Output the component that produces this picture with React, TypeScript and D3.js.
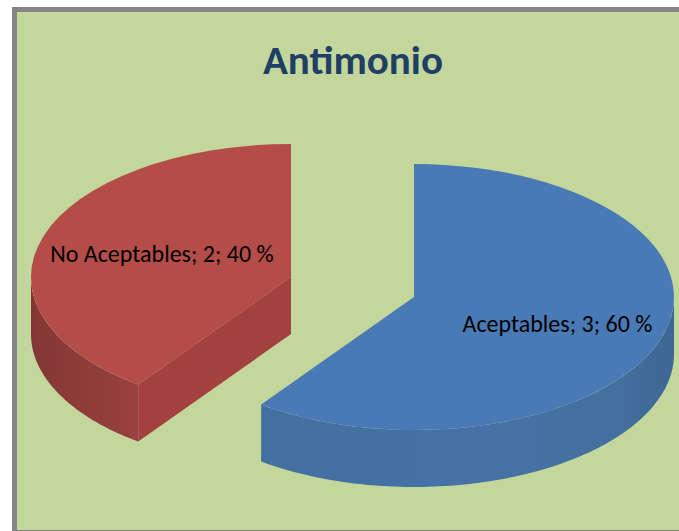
import React from "react";
import * as d3 from "d3";

const categories = ["Aceptables", "No Aceptables"];
const values = [3, 2];
const titleText = "Antimonio";

const W = 679, H = 531;
const rx = 260, ry = 133, depth = 57;
const centers = [{ x: 414, y: 297 }, { x: 291, y: 277 }];
const topColors = ["#4a7ab5", "#b44c48"];
const FONT = "Carlito, Calibri, 'Open Sans', 'Noto Sans', sans-serif";

const slices = d3.pie<number>().sort(null).startAngle(0).endAngle(2 * Math.PI)(values);
const total = d3.sum(values);

const unitArc = d3.arc<any>().innerRadius(0).outerRadius(1);
const px = (c: { x: number }, a: number) => c.x + rx * Math.sin(a);
const py = (c: { y: number }, a: number) => c.y - ry * Math.cos(a);

function wallPath(c: { x: number; y: number }, a0: number, a1: number) {
  const angles = d3.range(0, 101).map((i) => a0 + ((a1 - a0) * i) / 100);
  const pts: [number, number][] = [
    ...angles.map((a) => [px(c, a), py(c, a)] as [number, number]),
    ...angles.slice().reverse().map((a) => [px(c, a), py(c, a) + depth] as [number, number]),
  ];
  return d3.line()(pts) + "Z";
}

export default function App() {
  const blue = slices[0], red = slices[1];
  const cB = centers[0], cR = centers[1];
  const rimR = red.startAngle;
  const facePts: [number, number][] = [
    [cR.x, cR.y],
    [px(cR, rimR), py(cR, rimR)],
    [px(cR, rimR), py(cR, rimR) + depth],
    [cR.x, cR.y + depth],
  ];
  return (
    <svg width={W} height={H} viewBox={`0 0 ${W} ${H}`}
      style={{ position: "fixed", left: 0, top: 0, display: "block", background: "#fff" }}>
      <defs>
        <linearGradient id="blueWall" x1="0" x2="1" y1="0" y2="0">
          <stop offset="0" stopColor="#42709f" />
          <stop offset="0.5" stopColor="#4672a8" />
          <stop offset="0.85" stopColor="#44709f" />
          <stop offset="1" stopColor="#3d6694" />
        </linearGradient>
        <linearGradient id="redWall" x1="0" x2="1" y1="0" y2="0">
          <stop offset="0" stopColor="#833735" />
          <stop offset="0.5" stopColor="#8f3c39" />
          <stop offset="1" stopColor="#98413e" />
        </linearGradient>
      </defs>
      <rect x={12} y={7} width={667} height={524} fill="#868686" />
      <rect x={17} y={12} width={662} height={518} fill="#c3d69b" />

      {/* red slice */}
      <path d={wallPath(cR, rimR, 1.5 * Math.PI)} fill="url(#redWall)" />
      <path d={d3.line()(facePts) + "Z"} fill="#a3413e" />
      <path transform={`translate(${cR.x},${cR.y}) scale(${rx},${ry})`} d={unitArc(red)!} fill={topColors[1]} />

      {/* blue slice */}
      <path d={wallPath(cB, Math.PI / 2, blue.endAngle)} fill="url(#blueWall)" />
      <path transform={`translate(${cB.x},${cB.y}) scale(${rx},${ry})`} d={unitArc(blue)!} fill={topColors[0]} />

      <text x={353} y={74} textAnchor="middle" fontFamily={FONT} fontWeight={700} fontSize={41} fill="#1f3f66">{titleText}</text>
      <text x={162} y={262} textAnchor="middle" fontFamily={FONT} fontSize={24} fill="#000">
        {`${categories[1]}; ${values[1]}; ${(values[1] / total) * 100} %`}
      </text>
      <text x={557.5} y={332} textAnchor="middle" fontFamily={FONT} fontSize={24} fill="#000">
        {`${categories[0]}; ${values[0]}; ${(values[0] / total) * 100} %`}
      </text>
    </svg>
  );
}
